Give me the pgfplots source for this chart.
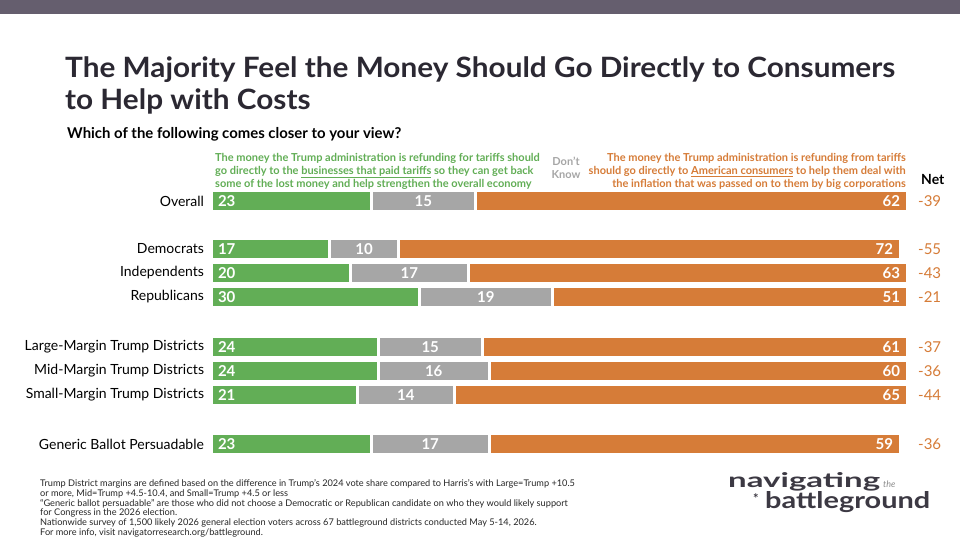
\documentclass[border=0pt]{standalone}
\usepackage{pgfplots}
\pgfplotsset{compat=1.18}
\usepackage{pgfplotstable}
\usepackage{fontspec}
\setmainfont{Lato}
\definecolor{cgreen}{HTML}{62AE56}
\definecolor{cgray}{HTML}{A6A6A6}
\definecolor{corange}{HTML}{D67C38}
\definecolor{ctitle}{HTML}{2B2832}
\definecolor{cband}{HTML}{655E6E}
\definecolor{clogo}{HTML}{3C3943}
\pgfplotstableread[col sep=comma]{
name,y,g,d,o,net
Overall,201,23,15,62,-39
Democrats,249,17,10,72,-55
Independents,273,20,17,63,-43
Republicans,297,30,19,51,-21
Large-Margin Trump Districts,347,24,15,61,-37
Mid-Margin Trump Districts,371,24,16,60,-36
Small-Margin Trump Districts,395,21,14,65,-44
Generic Ballot Persuadable,444,23,17,59,-36
}\data
\pgfplotsset{base/.style={at={(211pt,0pt)}, anchor=north west, scale only axis,
  width=696pt, height=540pt, xmin=0, xmax=100, ymin=0, ymax=540, y dir=reverse,
  axis lines=none, ticks=none, clip=false}}
\newsavebox{\tbox}
\sbox{\tbox}{\color{ctitle}\bfseries\fontsize{28}{34}\selectfont The Majority Feel the Money Should Go Directly to Consumers}
\pgfmathsetmacro{\tfac}{830/\the\wd\tbox}
\begin{document}
\begin{tikzpicture}
\fill[white] (0pt,0pt) rectangle (960pt,-540pt);
\fill[cband] (0pt,0pt) rectangle (960pt,-14pt);
\begin{axis}[base, xbar stacked, bar width=21pt]
\addplot[fill=cgreen, draw=white, line width=3pt] table[x=g, y=y] {\data};
\addplot[fill=cgray, draw=white, line width=3pt] table[x=d, y=y] {\data};
\addplot[fill=corange, draw=white, line width=3pt] table[x=o, y=y] {\data};
\end{axis}
\begin{axis}[base]
\pgfplotsset{lbl/.style={only marks, mark=text, text mark={},
  nodes near coords, point meta=explicit symbolic}}
\addplot[lbl, nodes near coords style={anchor=east, text=black, font=\fontsize{14}{16}\selectfont}]
  table[x expr=-0.5, y=y, meta=name] {\data};
\addplot[lbl, nodes near coords style={anchor=west, text=white, font=\bfseries\fontsize{15}{17}\selectfont}]
  table[x expr=0.5, y=y, meta=g] {\data};
\addplot[lbl, nodes near coords style={anchor=center, text=white, font=\bfseries\fontsize{15}{17}\selectfont}]
  table[x expr=\thisrow{g}+\thisrow{d}/2, y=y, meta=d] {\data};
\addplot[lbl, nodes near coords style={anchor=east, text=white, font=\bfseries\fontsize{15}{17}\selectfont}]
  table[x expr=\thisrow{g}+\thisrow{d}+\thisrow{o}-0.5, y=y, meta=o] {\data};
\addplot[lbl, nodes near coords style={anchor=west, text=corange, font=\fontsize{15}{17}\selectfont}]
  table[x expr=101.1, y=y, meta=net] {\data};
\end{axis}
% title
\node[anchor=base west, inner sep=0pt] at (65pt,-78pt) {\scalebox{\tfac}[1]{\usebox{\tbox}}};
\node[anchor=base west, inner sep=0pt, text=ctitle] at (65pt,-110pt) {\scalebox{\tfac}[1]{\bfseries\fontsize{28}{34}\selectfont to Help with Costs}};
\node[anchor=base west, inner sep=0pt] at (67pt,-139pt) {\bfseries\fontsize{14.9}{17}\selectfont Which of the following comes closer to your view?};
% headers
\node[anchor=north west, inner sep=0pt, text=cgreen] at (215pt,-152pt) {\bfseries\fontsize{11}{13}\selectfont\begin{tabular}{@{}l@{}}
The money the Trump administration is refunding for tariffs should\\
go directly to the \underline{businesses that paid tariffs} so they can get back\\
some of the lost money and help strengthen the overall economy\end{tabular}};
\node[anchor=north east, inner sep=0pt, text=corange] at (906pt,-152pt) {\bfseries\fontsize{11}{13}\selectfont\begin{tabular}{@{}r@{}}
The money the Trump administration is refunding from tariffs\\
should go directly to \underline{American consumers} to help them deal with\\
the inflation that was passed on to them by big corporations\end{tabular}};
\node[inner sep=0pt, text=cgray, align=center, font=\bfseries\fontsize{11}{13}\selectfont] at (566pt,-168pt) {Don't\\Know};
\node[anchor=base west, inner sep=0pt] at (921pt,-185pt) {\bfseries\fontsize{14}{16}\selectfont Net};
% footnote
\node[anchor=north west, inner sep=0pt, text=black!85] at (40pt,-479pt) {\fontsize{9.2}{9.8}\selectfont\begin{tabular}{@{}l@{}}
Trump District margins are defined based on the difference in Trump's 2024 vote share compared to Harris's with Large=Trump +10.5\\
or more, Mid=Trump +4.5-10.4, and Small=Trump +4.5 or less\\
``Generic ballot persuadable'' are those who did not choose a Democratic or Republican candidate on who they would likely support\\
for Congress in the 2026 election.\\
Nationwide survey of 1,500 likely 2026 general election voters across 67 battleground districts conducted May 5-14, 2026.\\
For more info, visit navigatorresearch.org/battleground.\end{tabular}};
% logo
\node[anchor=base west, inner sep=0pt, text=clogo] at (728pt,-487pt) {\resizebox{152pt}{15pt}{\bfseries navigating}};
\node[anchor=base west, inner sep=0pt, text=black!45] at (883pt,-487pt) {\fontsize{9}{10}\selectfont\itshape the};
\node[anchor=base west, inner sep=0pt, text=clogo] at (753pt,-503pt) {\fontsize{13}{13}\selectfont\bfseries *};
\node[anchor=base west, inner sep=0pt, text=clogo] at (765pt,-508pt) {\resizebox{165pt}{17pt}{\bfseries battleground}};
\end{tikzpicture}
\end{document}
